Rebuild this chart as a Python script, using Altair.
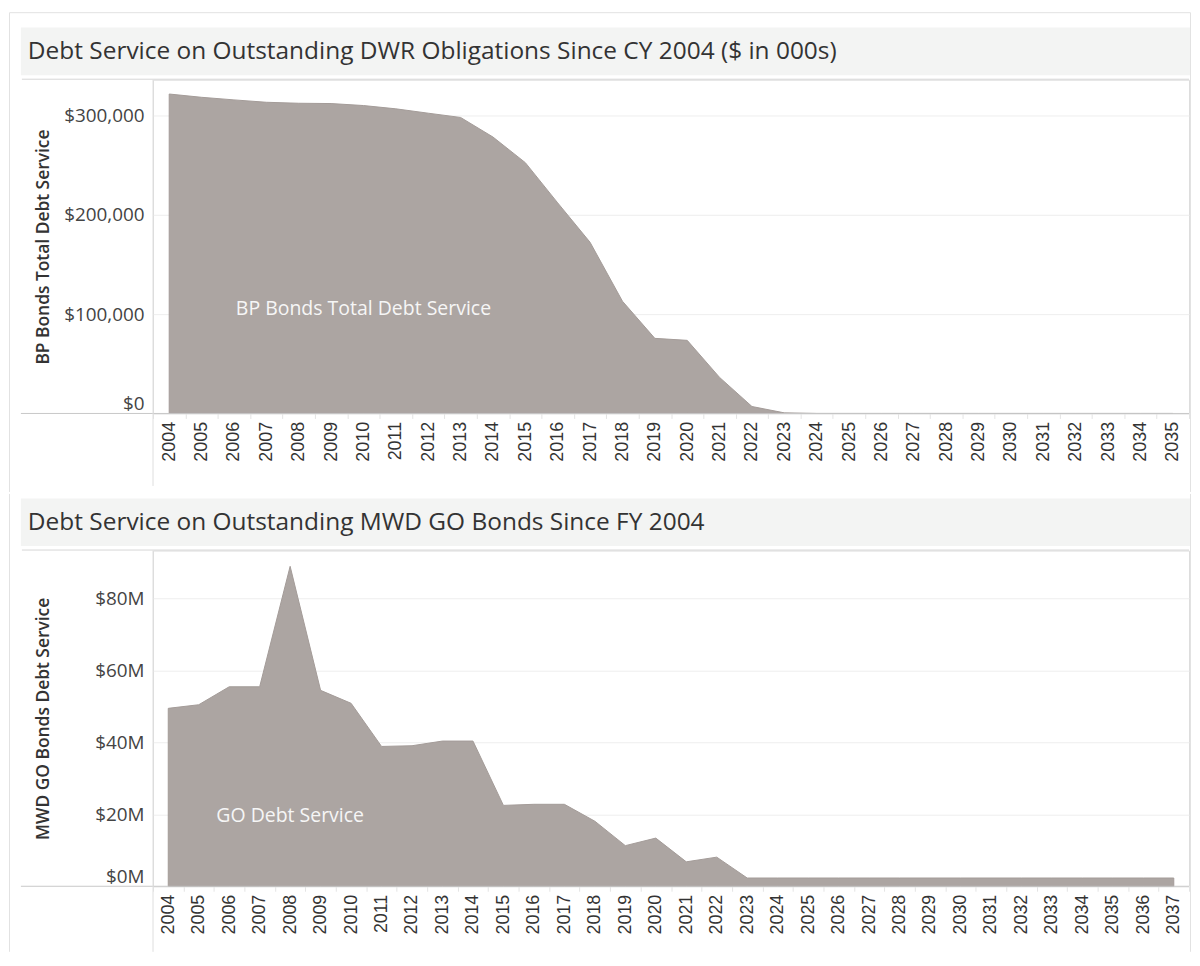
import altair as alt
import pandas as pd

# ---------------- data ----------------
bp_years = [2004, 2005, 2006, 2007, 2008, 2009, 2010, 2011, 2012, 2013, 2014,
            2015, 2016, 2017, 2018, 2019, 2020, 2021, 2022, 2023, 2024, 2025,
            2026, 2027, 2028, 2029, 2030, 2031, 2032, 2033, 2034, 2035]
bp_values = [321600, 318300, 315700, 313300, 312300, 312000, 310000, 306700,
             302300, 298000, 278300, 252500, 212000, 172300, 113000, 75600,
             73600, 36300, 7000, 600, 0, 0, 0, 0, 0, 0, 0, 0, 0, 0, 0, 0]
bp_ticks = [0, 100000, 200000, 300000]

go_years = [2004, 2005, 2006, 2007, 2008, 2009, 2010, 2011, 2012, 2013, 2014,
            2015, 2016, 2017, 2018, 2019, 2020, 2021, 2022, 2023, 2024, 2025,
            2026, 2027, 2028, 2029, 2030, 2031, 2032, 2033, 2034, 2035, 2036,
            2037]
go_values = [49.5, 50.5, 55.5, 55.5, 89.0, 54.5, 50.9, 38.9, 39.1, 40.4, 40.4,
             22.5, 22.8, 22.8, 18.1, 11.3, 13.4, 6.8, 8.1, 2.3, 2.3, 2.3, 2.3,
             2.3, 2.3, 2.3, 2.3, 2.3, 2.3, 2.3, 2.3, 2.3, 2.3, 2.3]
go_ticks = [0, 20, 40, 60, 80]

bp_title = "Debt Service on Outstanding DWR Obligations Since CY 2004 ($ in 000s)"
go_title = "Debt Service on Outstanding MWD GO Bonds Since FY 2004"
bp_axis_title = "BP Bonds Total Debt Service"
go_axis_title = "MWD GO Bonds Debt Service"
bp_note = {"year": [2010], "value": [105000], "label": ["BP Bonds Total Debt Service"]}
go_note = {"year": [2008], "value": [19.6], "label": ["GO Debt Service"]}

# ---------------- styles ----------------
FONT = "Open Sans"
AREA = "#aca5a2"
AREA_EDGE = "#a39b98"
BAR_BG = "#f3f4f3"
FRAME = "#e2e2e2"
W = 1043

one = pd.DataFrame({"k": [0]})


def rule(x, x2, y, y2, color, sw=1.0):
    return alt.Chart(one).mark_rule(color=color, strokeWidth=sw).encode(
        x=alt.value(x), x2=alt.value(x2), y=alt.value(y), y2=alt.value(y2))


def panel(years, values, ticks, dmax, label_expr, ytitle, title, note, h,
          frame_top, frame_bottom, vline_bottom):
    df = pd.DataFrame({"year": years, "value": values})
    xenc = alt.X(
        "year:O",
        scale=alt.Scale(type="band", domain=years, paddingInner=0, paddingOuter=0),
        bandPosition=0.5,
        title=None,
        axis=alt.Axis(labelAngle=270, labelFont="Liberation Sans", labelFontSize=18,
                      labelColor="#333333", labelPadding=3, tickBand="extent",
                      tickSize=5, tickColor="#e4e4e4", domain=False, grid=False,
                      labelOverlap=False),
    )
    yenc = alt.Y(
        "value:Q",
        scale=alt.Scale(domain=[0, dmax], nice=False, zero=True),
        title=ytitle,
        axis=alt.Axis(values=ticks, labelExpr=label_expr, labelFont=FONT,
                      labelFontSize=19, labelColor="#444444", labelPadding=9,
                      ticks=False, domain=False, grid=True, gridColor="#eeeeee",
                      gridWidth=1, labelFlush=True, titleFont=FONT,
                      titleFontSize=17.5, titleFontWeight=600, titleColor="#333333",
                      titleX=-110, titleBaseline="middle", titleAngle=270),
    )
    area = alt.Chart(df).mark_area(color=AREA, stroke=AREA_EDGE, strokeWidth=1).encode(
        x=xenc, y=yenc)
    ndf = pd.DataFrame(note)
    note_text = alt.Chart(ndf).mark_text(
        font=FONT, fontSize=19.6, color="#f6f6f6", align="center", baseline="middle"
    ).encode(x=alt.X("year:O"), y=alt.Y("value:Q"), text="label:N")

    bar = alt.Chart(one).mark_rect(color=BAR_BG).encode(
        x=alt.value(-133), x2=alt.value(1044), y=alt.value(-52.5), y2=alt.value(-4.5))
    ttl = alt.Chart(one).mark_text(
        text=title, font=FONT, fontSize=24.6, color="#333333", align="left",
        baseline="middle").encode(x=alt.value(-126), y=alt.value(-28))

    layers = [
        rule(-144.5, -144.5, frame_top, frame_bottom, FRAME),
        rule(1044.5, 1044.5, frame_top, frame_bottom, FRAME),
        bar,
        ttl,
        rule(-132, W, -0.5, -0.5, "#d6d6d6"),
        area,
        note_text,
        rule(-133, W, h, h, "#c8c8c8"),
        rule(0, 0, 0, vline_bottom, "#dedede"),
    ]
    if frame_top < -60:
        layers.insert(0, rule(-144.5, 1044.5, frame_top, frame_top, FRAME))
    return alt.layer(*layers).properties(width=W, height=h)


top = panel(bp_years, bp_values, bp_ticks, 336000,
            "'$' + format(datum.value, ',.0f')", bp_axis_title, bp_title,
            bp_note, 336, -67.5, 415, 409)
bottom = panel(go_years, go_values, go_ticks, 93.4,
               "'$' + format(datum.value, ',.0f') + 'M'", go_axis_title, go_title,
               go_note, 338, -57, 404, 404)

chart = alt.vconcat(top, bottom, spacing=0, padding=0).configure_view(
    strokeWidth=0).configure(background="white")

chart.save("out.html", embed_options={"renderer": "svg", "actions": False})
